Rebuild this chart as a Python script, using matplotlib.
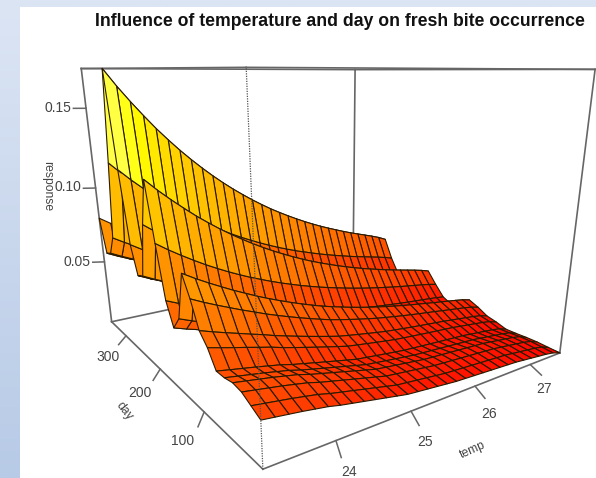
import numpy as np
import matplotlib
matplotlib.use("Agg")
import matplotlib.pyplot as plt
from matplotlib.colors import LinearSegmentedColormap, Normalize

plt.rcParams['font.family'] = ['Liberation Sans', 'DejaVu Sans']

# ---------- data ----------
title = "Influence of temperature and day on fresh bite occurrence"
temp_limits = [23.17, 27.6]
day_limits = [0, 350]
z_limits = [0.0065, 0.1735]

temp_ticks = [24, 25, 26, 27]
day_ticks = [100, 200, 300]
z_ticks = [0.05, 0.10, 0.15]
z_tick_labels = ["0.05", "0.10", "0.15"]

# response at the coolest temperature, one value per day row (every 14 days)
day_response = [0.031, 0.034, 0.037, 0.038, 0.037, 0.037, 0.046, 0.052, 0.066,
                0.077, 0.050, 0.042, 0.055, 0.085, 0.118, 0.092, 0.060, 0.058,
                0.075, 0.118, 0.1735, 0.120, 0.072, 0.060, 0.058, 0.080]
# relative fall of the response along temperature (31 temperature columns)
temp_factor = [1.00, 0.945, 0.895, 0.848, 0.803, 0.762, 0.723, 0.687, 0.653, 0.621,
               0.591, 0.563, 0.537, 0.512, 0.489, 0.467, 0.447, 0.428, 0.410, 0.393,
               0.377, 0.362, 0.348, 0.335, 0.322, 0.310, 0.299, 0.288, 0.277, 0.265,
               0.250]
# steeper fall seen on the earliest days
early_factor = [1.00, 0.97, 0.94, 0.91, 0.875, 0.84, 0.79, 0.75, 0.71, 0.67,
                0.63, 0.59, 0.55, 0.53, 0.51, 0.49, 0.47, 0.45, 0.44, 0.43,
                0.42, 0.41, 0.40, 0.39, 0.38, 0.36, 0.34, 0.32, 0.30, 0.27,
                0.21]
# share of each day row that follows early_factor
early_share = [1, 1, 1, 1, 0.9, 0.8, 0.6, 0.4, 0.2, 0.1, 0, 0, 0,
               0, 0, 0, 0, 0, 0, 0, 0, 0, 0, 0, 0, 0]

color_levels = [0.0065, 0.03, 0.05, 0.07, 0.095, 0.115, 0.13, 0.15, 0.1735]
level_colors = ["#FF0000", "#FF4000", "#FF7000", "#FF9800", "#FFBE00",
                "#FFDD00", "#FFFF00", "#FFFF70", "#FFFF90"]

# ---------- camera: where the corners of the R persp box fall, in pixels ----------
W, H = 596, 478
box_pixels = {  # (temp index, day index, z index): (px, py)
    (0, 0, 0): (262, 469), (1, 0, 0): (560, 353),
    (0, 1, 0): (112, 322), (1, 1, 0): (353, 270),
    (0, 0, 1): (247, 68), (1, 0, 1): (595, 69),
    (0, 1, 1): (81, 68), (1, 1, 1): (355, 70),
}


def fit_camera():
    rows = []
    for (i, j, k), (u, v) in box_pixels.items():
        X = [i, j, k, 1.0]
        rows.append(X + [0, 0, 0, 0] + [-u * c for c in X])
        rows.append([0, 0, 0, 0] + X + [-v * c for c in X])
    P = np.linalg.svd(np.array(rows, float))[2][-1].reshape(3, 4)
    S = np.array([
        [1 / (temp_limits[1] - temp_limits[0]), 0, 0, -temp_limits[0] / (temp_limits[1] - temp_limits[0])],
        [0, 1 / (day_limits[1] - day_limits[0]), 0, -day_limits[0] / (day_limits[1] - day_limits[0])],
        [0, 0, 1 / (z_limits[1] - z_limits[0]), -z_limits[0] / (z_limits[1] - z_limits[0])],
        [0, 0, 0, 1.0]])
    P = P @ S
    mid = np.array([np.mean(temp_limits), np.mean(day_limits), np.mean(z_limits), 1.0])
    return P / (P[2] @ mid)


CAMERA = fit_camera()

fig = plt.figure(figsize=(W / 100, H / 100), dpi=100, facecolor="white")

# ---------- slide background ----------
bg = fig.add_axes([0, 0, 1, 1], zorder=0)
bg.set_xlim(0, W)
bg.set_ylim(H, 0)
bg.axis("off")
bg_colors = LinearSegmentedColormap.from_list("slide", ["#DCE5F4", "#B7CAE6"])
bg.imshow(np.linspace(0, 1, 256).reshape(-1, 1), cmap=bg_colors, aspect="auto",
          extent=(0, W, H, 0))
bg.add_patch(plt.Rectangle((20, 7), W - 20, H - 7, facecolor="white", edgecolor="none"))

# ---------- 3D axes with the fitted camera ----------
side = W / H
ax = fig.add_axes([0, (1 - side) / 2, 1, side], projection="3d",
                  computed_zorder=False, zorder=1)
ax.patch.set_visible(False)
ax.set_axis_off()


def camera_proj():
    inv = ax.transData.inverted()
    src = np.array([[0, 0], [100, 0], [0, 100]], float)
    dst = inv.transform(np.column_stack([src[:, 0], H - src[:, 1]]))
    A = np.linalg.solve(np.column_stack([src, np.ones(3)]), dst).T
    row_x = A[0, 0] * CAMERA[0] + A[0, 1] * CAMERA[1] + A[0, 2] * CAMERA[2]
    row_y = A[1, 0] * CAMERA[0] + A[1, 1] * CAMERA[1] + A[1, 2] * CAMERA[2]
    return np.vstack([row_x, row_y, [0, 0, 0, -1.0], CAMERA[2]])


ax.get_proj = camera_proj

# ---------- surface ----------
temps = np.linspace(temp_limits[0], temp_limits[1], len(temp_factor))
days = np.linspace(day_limits[0], day_limits[1], len(day_response))
T, D = np.meshgrid(temps, days)
share = np.array(early_share, float)
resp = np.array(day_response)
Z = np.outer(resp * (1 - share), temp_factor) + np.outer(resp * share, early_factor)

mids = (Z[:-1, :-1] + Z[1:, :-1] + Z[:-1, 1:] + Z[1:, 1:]) / 4
pos = (np.array(color_levels) - color_levels[0]) / (color_levels[-1] - color_levels[0])
cmap = LinearSegmentedColormap.from_list("heat", list(zip(pos, level_colors)))
norm = Normalize(color_levels[0], color_levels[-1])
face = np.zeros(Z.shape + (4,))
face[:-1, :-1] = cmap(norm(mids))
surf = ax.plot_surface(T, D, Z, facecolors=face, rstride=1, cstride=1, shade=False,
                       linewidth=0.8, zorder=3, antialiased=True)
surf.set_edgecolor("#2a1a00")

# ---------- box ----------
t0, t1 = temp_limits
d0, d1 = day_limits
z0, z1 = z_limits
box_col = "#666666"
back = [((t0, d1, z0), (t1, d1, z0)), ((t1, d1, z0), (t1, d0, z0)),
        ((t1, d1, z0), (t1, d1, z1)), ((t0, d1, z1), (t1, d1, z1)),
        ((t1, d1, z1), (t1, d0, z1)), ((t0, d0, z1), (t0, d1, z1)),
        ((t0, d0, z1), (t1, d0, z1))]
for a, b in back:
    ax.plot(*zip(a, b), color=box_col, lw=1.2, zorder=1)
front = [((t0, d0, z0), (t0, d1, z0)), ((t0, d0, z0), (t1, d0, z0)),
         ((t0, d1, z0), (t0, d1, z1)), ((t1, d0, z0), (t1, d0, z1))]
for a, b in front:
    ax.plot(*zip(a, b), color=box_col, lw=1.2, zorder=1)
ax.plot([t0, t0], [d0, d0], [z0, z1], color="#555555", lw=0.9, ls=(0, (1, 1)), zorder=5)

# ---------- ticks ----------
for v in day_ticks:
    ax.plot([t0, t0 - 0.18], [v, v - 19], [z0, z0], color=box_col, lw=1.1, zorder=1)
for v in temp_ticks:
    ax.plot([v, v - 0.13], [d0, d0 - 21], [z0, z0], color=box_col, lw=1.1, zorder=1)
for v in z_ticks:
    ax.plot([t0, t0 - 0.14], [d1, d1 + 6], [v, v], color=box_col, lw=1.1, zorder=1)

txt = "#444444"


def label(px, py, s, **kw):
    fig.text(px / W, 1 - py / H, s, ha="center", va="center", color=txt,
             fontsize=kw.pop("fontsize", 10), zorder=6, **kw)


for v, (px, py) in zip(z_tick_labels, [(77, 262), (68, 187), (58, 108)]):
    label(px, py, v)
for v, (px, py) in zip(day_ticks, [(183, 441), (140, 393), (108, 357)]):
    label(px, py, str(v))
for v, (px, py) in zip(temp_ticks, [(349, 472), (425, 442), (489, 414), (544, 389)]):
    label(px, py, str(v))
label(47, 186, "response", rotation=-90, fontsize=8.7)
label(124, 411, "day", rotation=-52, fontsize=8.7)
label(473, 450, "temp", rotation=24, fontsize=8.7)

fig.text(339.5 / W, 1 - 21 / H, title, ha="center", va="center", fontsize=12.7,
         fontweight="bold", color="#111111", zorder=6)

fig.savefig("out.png", dpi=100)
